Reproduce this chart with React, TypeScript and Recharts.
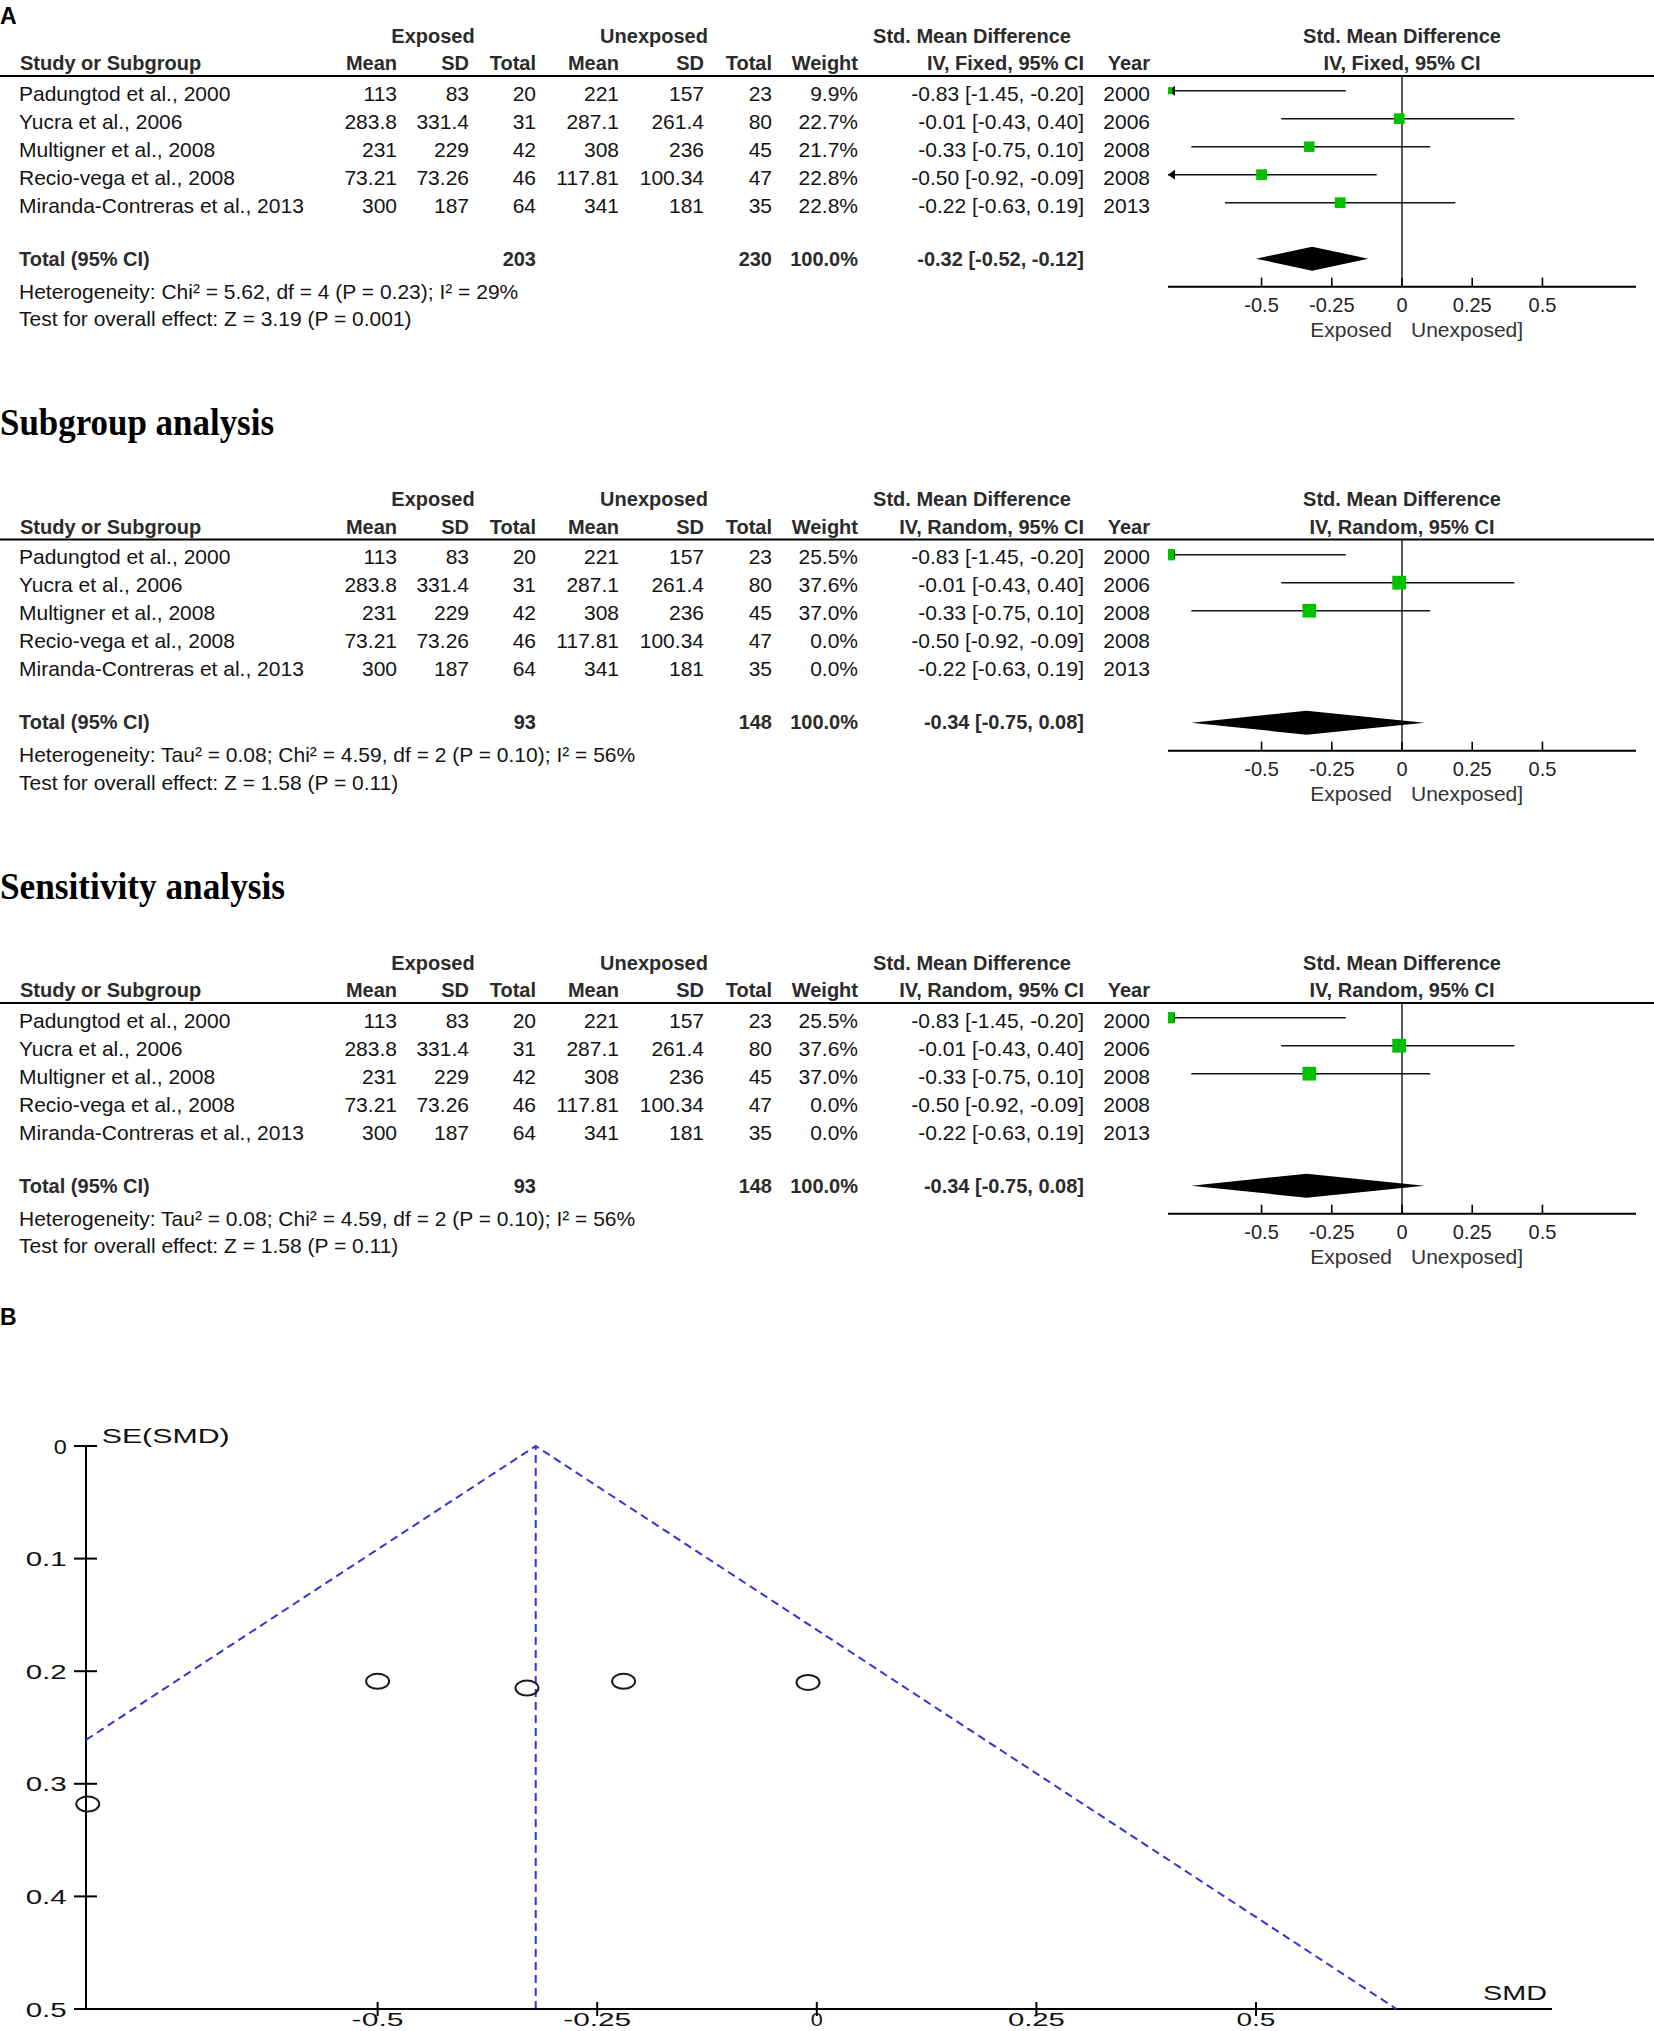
import React from "react";
import { ScatterChart, Scatter, XAxis, YAxis, ReferenceLine } from "recharts";

const SANS = "'Liberation Sans', Arial, Helvetica, sans-serif";
const SERIF = "'Liberation Serif', 'Times New Roman', serif";

// study rows
const studies = [
  "Padungtod et al., 2000",
  "Yucra et al., 2006",
  "Multigner et al., 2008",
  "Recio-vega et al., 2008",
  "Miranda-Contreras et al., 2013",
];
const expMean = [113, 283.8, 231, 73.21, 300];
const expSD = [83, 331.4, 229, 73.26, 187];
const expTotal = [20, 31, 42, 46, 64];
const unexpMean = [221, 287.1, 308, 117.81, 341];
const unexpSD = [157, 261.4, 236, 100.34, 181];
const unexpTotal = [23, 80, 45, 47, 35];
const smd = [-0.83, -0.01, -0.33, -0.5, -0.22];
const ciLower = [-1.45, -0.43, -0.75, -0.92, -0.63];
const ciUpper = [-0.2, 0.4, 0.1, -0.09, 0.19];
const years = [2000, 2006, 2008, 2008, 2013];
const fixedWeights = [9.9, 22.7, 21.7, 22.8, 22.8];
const randomWeights = [25.5, 37.6, 37.0, 0, 0];

// pooled results: A, subgroup, sensitivity
const methods = ["IV, Fixed, 95% CI", "IV, Random, 95% CI", "IV, Random, 95% CI"];
const pooledSMD = [-0.32, -0.34, -0.34];
const pooledLower = [-0.52, -0.75, -0.75];
const pooledUpper = [-0.12, 0.08, 0.08];
const totalExposed = [203, 93, 93];
const totalUnexposed = [230, 148, 148];
const panelWeights = [fixedWeights, randomWeights, randomWeights];
const heterogeneity = [
  "Heterogeneity: Chi\u00b2 = 5.62, df = 4 (P = 0.23); I\u00b2 = 29%",
  "Heterogeneity: Tau\u00b2 = 0.08; Chi\u00b2 = 4.59, df = 2 (P = 0.10); I\u00b2 = 56%",
  "Heterogeneity: Tau\u00b2 = 0.08; Chi\u00b2 = 4.59, df = 2 (P = 0.10); I\u00b2 = 56%",
];
const overallEffect = [
  "Test for overall effect: Z = 3.19 (P = 0.001)",
  "Test for overall effect: Z = 1.58 (P = 0.11)",
  "Test for overall effect: Z = 1.58 (P = 0.11)",
];
const forestTicks = [-0.5, -0.25, 0, 0.25, 0.5];

// funnel plot (B)
const seSMD = [0.318, 0.21, 0.215, 0.209, 0.209];
const funnelEdgeSMD = [-0.832, -0.32, 0.66];
const funnelEdgeSE = [0.261, 0, 0.5];
const funnelTicksX = [-0.5, -0.25, 0, 0.25, 0.5];
const funnelTicksY = [0, 0.1, 0.2, 0.3, 0.4, 0.5];

// layout
const panelOffsets = [0, 463.5, 927];
const ROW0 = 90.7;
const ROW_STEP = 28;
const TEXT_SHIFT = 2.5;
const PLOT_LEFT = 1168;
const PLOT_W = 468;
const PLOT_H = 210.7;
const FOREST_DOMAIN: [number, number] = [-0.833, 0.833];
const ROW_DOMAIN: [number, number] = [-0.525, 7];
const TOTAL_ROW = 6;
const BLUE = "#3434d2";

function Txt({ x, y, children, size = 21, bold = false, anchor = "start", fill = "#141414", family = SANS, len }: any) {
  return (
    <text
      x={x}
      y={y + size * 0.358}
      fontSize={size}
      fontWeight={bold ? 700 : 400}
      fontFamily={family}
      textAnchor={anchor}
      fill={fill}
      textLength={len}
      lengthAdjust={len ? "spacingAndGlyphs" : undefined}
    >
      {children}
    </text>
  );
}

const fmt2 = (v: number) => v.toFixed(2);
const ciText = (e: number, l: number, u: number) => `${fmt2(e)} [${fmt2(l)}, ${fmt2(u)}]`;

function PanelTable({ p }: { p: number }) {
  const dy = panelOffsets[p];
  const w = panelWeights[p];
  const h1 = 35.5 + dy;
  const h2 = 63.3 + dy;
  const H = "#2b2b2b";
  const totalY = ROW0 + ROW_STEP * TOTAL_ROW + dy;
  return (
    <g>
      <Txt x={433} y={h1} size={20} bold anchor="middle" fill={H}>Exposed</Txt>
      <Txt x={654} y={h1} size={20} bold anchor="middle" fill={H}>Unexposed</Txt>
      <Txt x={972} y={h1} size={20} bold anchor="middle" fill={H}>Std. Mean Difference</Txt>
      <Txt x={1402} y={h1} size={20} bold anchor="middle" fill={H}>Std. Mean Difference</Txt>

      <Txt x={20} y={h2} size={20} bold fill={H}>Study or Subgroup</Txt>
      <Txt x={397} y={h2} size={20} bold anchor="end" fill={H}>Mean</Txt>
      <Txt x={469} y={h2} size={20} bold anchor="end" fill={H}>SD</Txt>
      <Txt x={536} y={h2} size={20} bold anchor="end" fill={H}>Total</Txt>
      <Txt x={619} y={h2} size={20} bold anchor="end" fill={H}>Mean</Txt>
      <Txt x={704} y={h2} size={20} bold anchor="end" fill={H}>SD</Txt>
      <Txt x={772} y={h2} size={20} bold anchor="end" fill={H}>Total</Txt>
      <Txt x={858} y={h2} size={20} bold anchor="end" fill={H}>Weight</Txt>
      <Txt x={1084} y={h2} size={20} bold anchor="end" fill={H}>{methods[p]}</Txt>
      <Txt x={1150} y={h2} size={20} bold anchor="end" fill={H}>Year</Txt>
      <Txt x={1402} y={h2} size={20} bold anchor="middle" fill={H}>{methods[p]}</Txt>

      <line x1={0} x2={1654} y1={76 + dy} y2={76 + dy} stroke="#000" strokeWidth={2} />

      {studies.map((s, i) => {
        const y = ROW0 + ROW_STEP * i + dy + TEXT_SHIFT;
        return (
          <g key={s}>
            <Txt x={19} y={y}>{s}</Txt>
            <Txt x={397} y={y} anchor="end">{String(expMean[i])}</Txt>
            <Txt x={469} y={y} anchor="end">{String(expSD[i])}</Txt>
            <Txt x={536} y={y} anchor="end">{String(expTotal[i])}</Txt>
            <Txt x={619} y={y} anchor="end">{String(unexpMean[i])}</Txt>
            <Txt x={704} y={y} anchor="end">{String(unexpSD[i])}</Txt>
            <Txt x={772} y={y} anchor="end">{String(unexpTotal[i])}</Txt>
            <Txt x={858} y={y} anchor="end">{w[i].toFixed(1) + "%"}</Txt>
            <Txt x={1084} y={y} anchor="end">{ciText(smd[i], ciLower[i], ciUpper[i])}</Txt>
            <Txt x={1150} y={y} anchor="end">{String(years[i])}</Txt>
          </g>
        );
      })}

      <Txt x={19} y={totalY} size={20} bold fill={H}>Total (95% CI)</Txt>
      <Txt x={536} y={totalY} size={20} bold anchor="end" fill={H}>{String(totalExposed[p])}</Txt>
      <Txt x={772} y={totalY} size={20} bold anchor="end" fill={H}>{String(totalUnexposed[p])}</Txt>
      <Txt x={858} y={totalY} size={20} bold anchor="end" fill={H}>100.0%</Txt>
      <Txt x={1084} y={totalY} size={20} bold anchor="end" fill={H}>
        {ciText(pooledSMD[p], pooledLower[p], pooledUpper[p])}
      </Txt>
      <Txt x={19} y={291 + dy}>{heterogeneity[p]}</Txt>
      <Txt x={19} y={318.5 + dy}>{overallEffect[p]}</Txt>

      <Txt x={1392} y={329.7 + dy} anchor="end" fill="#333">Exposed</Txt>
      <Txt x={1411} y={329.7 + dy} fill="#333">Unexposed]</Txt>
    </g>
  );
}

const noShape = () => <g />;

const squareShape = (props: any) => {
  const w = props.payload?.w ?? props.w;
  const s = 2.25 * Math.sqrt(w);
  return <rect x={props.cx - s / 2} y={props.cy - s / 2} width={s} height={s} fill="#00c000" />;
};

const arrowShape = (props: any) => (
  <polygon
    points={`${props.cx},${props.cy} ${props.cx + 7},${props.cy - 5} ${props.cx + 7},${props.cy + 5}`}
    fill="#000"
  />
);

const diamondLine = (props: any) => {
  const [a, b, c] = props.points;
  const dh = 12;
  return (
    <polygon
      points={`${a.x},${a.y} ${b.x},${b.y - dh} ${c.x},${c.y} ${b.x},${b.y + dh}`}
      fill="#000"
    />
  );
};

const ForestTick = (props: any) => {
  const { x, y, payload } = props;
  return (
    <g>
      <line x1={x} x2={x} y1={y - 9} y2={y} stroke="#000" strokeWidth={1.6} />
      <text x={x} y={y + 18 + 7.2} textAnchor="middle" fontSize={20} fontFamily={SANS} fill="#222">
        {String(payload.value)}
      </text>
    </g>
  );
};

function ForestChart({ p }: { p: number }) {
  const w = panelWeights[p];
  const rows = studies
    .map((_, i) => ({ x: smd[i], y: i, w: w[i], lo: ciLower[i], hi: ciUpper[i] }))
    .filter((r) => r.w > 0);
  const arrows = rows
    .filter((r) => r.lo < FOREST_DOMAIN[0])
    .map((r) => ({ x: Math.max(r.lo, FOREST_DOMAIN[0]), y: r.y }));
  const diamond = [
    { x: pooledLower[p], y: TOTAL_ROW },
    { x: pooledSMD[p], y: TOTAL_ROW },
    { x: pooledUpper[p], y: TOTAL_ROW },
  ];
  return (
    <div style={{ position: "absolute", left: PLOT_LEFT, top: 76 + panelOffsets[p] }}>
      <ScatterChart width={PLOT_W} height={PLOT_H + 50} margin={{ top: 0, right: 0, bottom: 0, left: 0 }}>
        <XAxis
          type="number"
          dataKey="x"
          domain={FOREST_DOMAIN}
          allowDataOverflow
          ticks={forestTicks}
          interval={0}
          height={50}
          tickSize={0}
          tickMargin={0}
          tickLine={false}
          axisLine={{ stroke: "#000", strokeWidth: 2 }}
          tick={ForestTick}
        />
        <YAxis type="number" dataKey="y" domain={ROW_DOMAIN} reversed hide allowDataOverflow />
        <ReferenceLine x={0} stroke="#000" strokeWidth={1.3} />
        {rows.map((r) => (
          <Scatter
            key={`ci-${r.y}`}
            data={[
              { x: r.lo, y: r.y },
              { x: r.hi, y: r.y },
            ]}
            line={{ stroke: "#141414", strokeWidth: 1.4 }}
            shape={noShape}
            isAnimationActive={false}
          />
        ))}
        <Scatter data={arrows} shape={arrowShape} isAnimationActive={false} />
        <Scatter data={rows} shape={squareShape} isAnimationActive={false} />
        <Scatter data={diamond} line={diamondLine} shape={noShape} isAnimationActive={false} />
      </ScatterChart>
    </div>
  );
}

const xLabelLen: Record<string, number> = { "-0.5": 52, "-0.25": 68, "0": 12, "0.25": 57, "0.5": 39 };

const FunnelXTick = (props: any) => {
  const { x, y, payload } = props;
  const label = String(payload.value);
  return (
    <g>
      <line x1={x} x2={x} y1={y - 7} y2={y + 7} stroke="#000" strokeWidth={2} />
      <text
        x={x}
        y={y + 16.5}
        textAnchor="middle"
        fontSize={19}
        fontFamily={SANS}
        fill="#111"
        textLength={xLabelLen[label]}
        lengthAdjust="spacingAndGlyphs"
      >
        {label}
      </text>
    </g>
  );
};

const FunnelYTick = (props: any) => {
  const { x, y, payload } = props;
  const label = String(payload.value);
  return (
    <g>
      <line x1={x - 12} x2={x + 11} y1={y} y2={y} stroke="#000" strokeWidth={2} />
      <text
        x={x - 19.3}
        y={y + 7.5}
        textAnchor="end"
        fontSize={21}
        fontFamily={SANS}
        fill="#111"
        textLength={label.length > 1 ? 41 : 13}
        lengthAdjust="spacingAndGlyphs"
      >
        {label}
      </text>
    </g>
  );
};

const ellipseShape = (props: any) => (
  <ellipse cx={props.cx} cy={props.cy} rx={11.5} ry={7.5} fill="none" stroke="#1a1a1a" strokeWidth={2} />
);

function FunnelChart() {
  const points = smd.map((x, i) => ({ x, y: seSMD[i] }));
  const edges = funnelEdgeSMD.map((x, i) => ({ x, y: funnelEdgeSE[i] }));
  return (
    <div style={{ position: "absolute", left: 0, top: 1415 }}>
      <ScatterChart width={1654} height={634} margin={{ top: 31, right: 102, bottom: 0, left: 0 }}>
        <XAxis
          type="number"
          dataKey="x"
          domain={[-0.832, 0.837]}
          ticks={funnelTicksX}
          interval={0}
          height={40}
          tickSize={0}
          tickMargin={0}
          tickLine={false}
          axisLine={{ stroke: "#000", strokeWidth: 2 }}
          tick={FunnelXTick}
        />
        <YAxis
          type="number"
          dataKey="y"
          domain={[0, 0.5]}
          reversed
          ticks={funnelTicksY}
          interval={0}
          width={86}
          tickSize={0}
          tickMargin={0}
          tickLine={false}
          axisLine={{ stroke: "#000", strokeWidth: 2 }}
          tick={FunnelYTick}
        />
        <ReferenceLine x={-0.32} stroke={BLUE} strokeWidth={2} strokeDasharray="8 5" />
        <Scatter
          data={edges}
          line={{ stroke: BLUE, strokeWidth: 2, strokeDasharray: "8 5" }}
          shape={noShape}
          isAnimationActive={false}
        />
        <Scatter data={points} shape={ellipseShape} isAnimationActive={false} />
      </ScatterChart>
    </div>
  );
}

export default function App() {
  return (
    <div
      style={{
        position: "absolute",
        left: 0,
        top: 0,
        width: 1654,
        height: 2031,
        overflow: "hidden",
        background: "#fff",
      }}
    >
      <svg width={1654} height={2031} style={{ position: "absolute", left: 0, top: 0 }}>
        <text x={0} y={24} fontSize={23} fontWeight={700} fontFamily={SANS} fill="#000">A</text>
        <text x={0} y={435} fontSize={38} fontWeight={700} fontFamily={SERIF} fill="#000" textLength={274} lengthAdjust="spacingAndGlyphs">
          Subgroup analysis
        </text>
        <text x={0} y={898.5} fontSize={38} fontWeight={700} fontFamily={SERIF} fill="#000" textLength={285} lengthAdjust="spacingAndGlyphs">
          Sensitivity analysis
        </text>
        <text x={0} y={1325} fontSize={23} fontWeight={700} fontFamily={SANS} fill="#000">B</text>
        {[0, 1, 2].map((p) => (
          <PanelTable key={p} p={p} />
        ))}
        <text x={101.7} y={1442.7} fontSize={21} fontFamily={SANS} fill="#111" textLength={128} lengthAdjust="spacingAndGlyphs">
          SE(SMD)
        </text>
        <text x={1483} y={2000} fontSize={21} fontFamily={SANS} fill="#111" textLength={64} lengthAdjust="spacingAndGlyphs">
          SMD
        </text>
      </svg>
      {[0, 1, 2].map((p) => (
        <ForestChart key={p} p={p} />
      ))}
      <FunnelChart />
    </div>
  );
}
